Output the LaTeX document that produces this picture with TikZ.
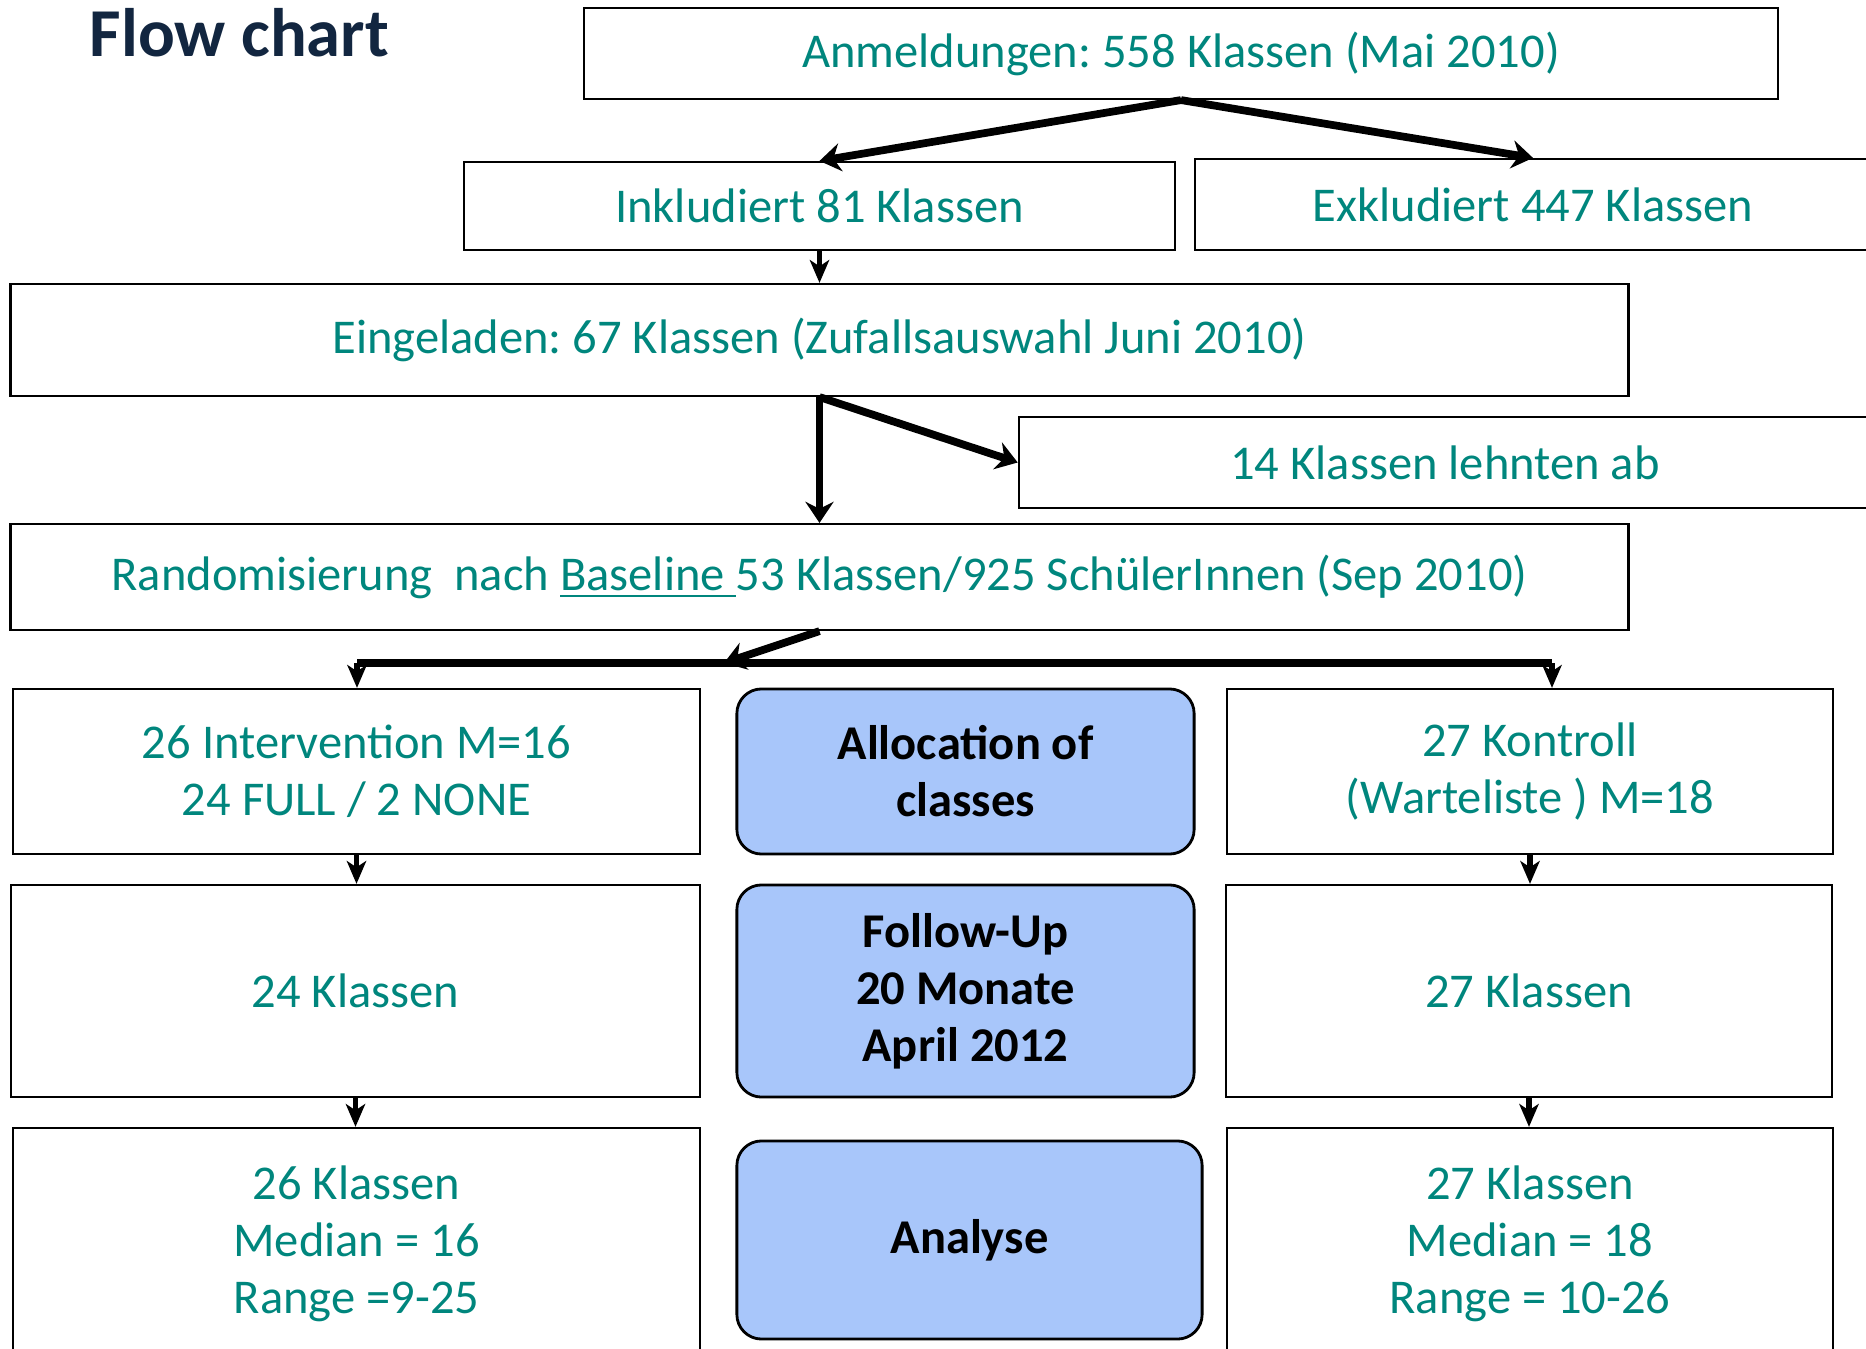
\documentclass[tikz,border=0pt]{standalone}
\usepackage{fontspec}
\setmainfont{Carlito}
\usetikzlibrary{arrows.meta}
\frenchspacing

\definecolor{tealtext}{RGB}{0,134,125}
\definecolor{titlenavy}{RGB}{18,38,64}
\definecolor{allocblue}{RGB}{168,198,250}

\begin{document}
\begin{tikzpicture}[x=0.01cm, y=-0.01cm,
  box/.style={draw, line width=0.6pt, text=tealtext, align=center, inner sep=0pt,
    font=\fontsize{13.8}{16.2}\selectfont},
  midbox/.style={draw, line width=0.8pt, fill=allocblue, rounded corners=7pt, align=center,
    inner sep=0pt, font=\fontsize{13.8}{16.2}\selectfont\bfseries},
  bigarrow/.style={line width=2.2pt, -{Stealth[length=6pt, width=8pt, inset=2pt]}},
  smallarrow/.style={line width=1.5pt, -{Stealth[length=6.5pt, width=5.5pt, inset=1.8pt]}},
  bar/.style={line width=2.4pt}]
  \useasboundingbox (0,0) rectangle (1866,1349);
  % title
  \node[anchor=base west, inner sep=0pt, text=titlenavy, font=\fontsize{19.5}{23}\selectfont\bfseries] (title) at (89,57) {Flow chart};
  % upper boxes
  \node[box, minimum width=11.94cm, minimum height=0.91cm] (anm) at (1181,53.5) {Anmeldungen: 558 Klassen (Mai 2010)};
  \node[box, minimum width=7.11cm, minimum height=0.88cm] (inkl) at (819.5,206) {Inkludiert 81 Klassen};
  \node[box, minimum width=6.76cm, minimum height=0.91cm] (exkl) at (1533,204.5) {Exkludiert 447 Klassen};
  \node[box, minimum width=16.17cm, minimum height=1.12cm] (ein) at (819.5,340) {Eingeladen: 67 Klassen (Zufallsauswahl Juni 2010)};
  \node[box, minimum width=8.52cm, minimum height=0.91cm] (abl) at (1445,462.5) {14 Klassen lehnten ab};
  \node[box, minimum width=16.17cm, minimum height=1.06cm] (rand) at (819.5,577) {Randomisierung\ \ nach \underline{Baseline\ }53 Klassen/925 SchülerInnen (Sep 2010)};
  % three columns
  \node[box, minimum width=6.87cm, minimum height=1.65cm] (int) at (356.5,771.5) {26 Intervention M=16\\24 FULL / 2 NONE};
  \node[midbox, minimum width=4.57cm, minimum height=1.65cm] (alloc) at (965.5,771.5) {Allocation of\\classes};
  \node[box, minimum width=6.06cm, minimum height=1.65cm] (kon) at (1530,771.5) {27 Kontroll\\(Warteliste ) M=18};
  \node[box, minimum width=6.89cm, minimum height=2.12cm] (int2) at (355.5,991) {24 Klassen};
  \node[midbox, minimum width=4.57cm, minimum height=2.12cm] (follow) at (965.5,991) {Follow-Up\\20 Monate\\April 2012};
  \node[box, minimum width=6.06cm, minimum height=2.12cm] (kon2) at (1529,991) {27 Klassen};
  \node[box, minimum width=6.87cm, minimum height=2.31cm] (int3) at (356.5,1243.5) {26 Klassen\\Median = 16\\Range =9-25};
  \node[midbox, minimum width=4.65cm, minimum height=1.98cm] (ana) at (969.5,1240) {Analyse};
  \node[box, minimum width=6.06cm, minimum height=2.31cm] (kon3) at (1530,1243.5) {27 Klassen\\Median = 18\\Range = 10-26};
  % connectors
  \coordinate (barL) at (357,663);
  \coordinate (barR) at (1552,663);
  \coordinate (hit) at (724,663);
  \draw[bigarrow] (anm.south) -- (inkl.north);
  \draw[bigarrow] (anm.south) -- (exkl.north);
  \draw[smallarrow] (inkl.south) -- (ein.north);
  \draw[bigarrow] (ein.south) -- (rand.north);
  \draw[bigarrow] (ein.south) -- (abl.west);
  \draw[bar] (barL) -- (barR);
  \draw[bigarrow] (rand.south) -- (hit);
  \draw[smallarrow] (barL) -- (barL |- int.north);
  \draw[smallarrow] (barR) -- (barR |- kon.north);
  \draw[smallarrow] (int.south) -- (int.south |- int2.north);
  \draw[smallarrow] (int2.south) -- (int2.south |- int3.north);
  \draw[smallarrow] (kon.south) -- (kon.south |- kon2.north);
  \draw[smallarrow] (kon2.south) -- (kon2.south |- kon3.north);
\end{tikzpicture}
\end{document}
